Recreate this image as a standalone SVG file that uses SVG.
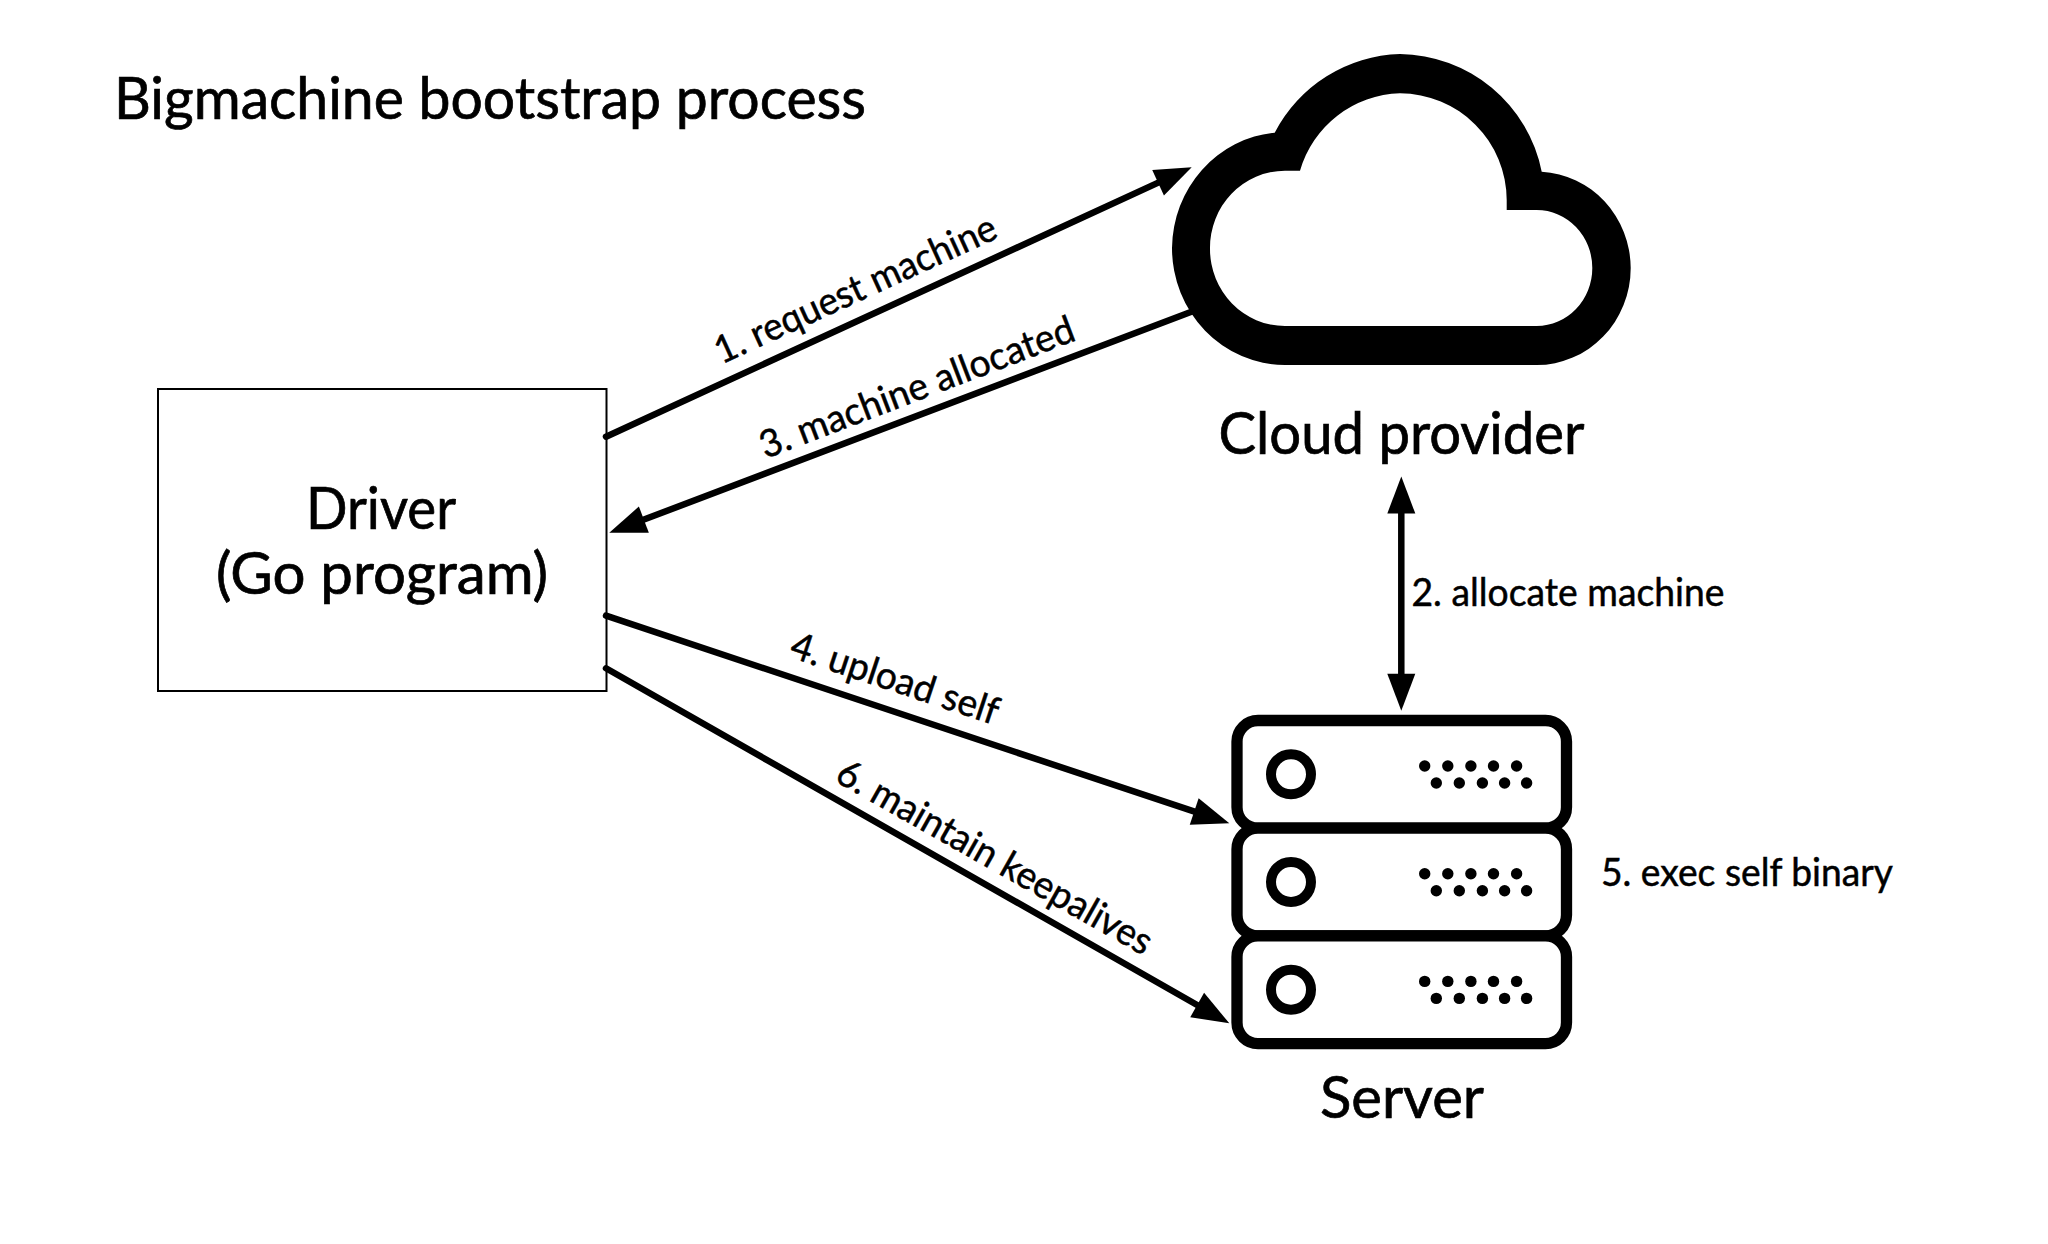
<svg xmlns="http://www.w3.org/2000/svg" width="2048" height="1244" viewBox="0 0 2048 1244">
<style>
text{font-family:"Lato","Liberation Sans",sans-serif;fill:#000;stroke:#000;stroke-width:.7}
.big{font-size:58px;text-anchor:middle}
.small{font-size:38px;stroke-width:.5}
.conn{stroke:#000;stroke-width:6.5;fill:none;stroke-linecap:round}
.rack{fill:#fff;stroke:#000;stroke-width:11.3}
.led{fill:none;stroke:#000;stroke-width:10}
</style>
<defs>
<marker id="head" markerUnits="userSpaceOnUse" markerWidth="37" markerHeight="28" refX="2" refY="14" orient="auto-start-reverse" overflow="visible"><path d="M0 0L37 14L0 28z" fill="#000"/></marker>
<g id="dots"><g fill="#000"><circle cx="1424.7" cy="766" r="5.7"/><circle cx="1447.8" cy="766" r="5.7"/><circle cx="1470.9" cy="766" r="5.7"/><circle cx="1493.5" cy="766" r="5.7"/><circle cx="1516.6" cy="766" r="5.7"/><circle cx="1436.3" cy="783" r="5.7"/><circle cx="1459.3" cy="783" r="5.7"/><circle cx="1482.4" cy="783" r="5.7"/><circle cx="1504.6" cy="783" r="5.7"/><circle cx="1526.6" cy="783" r="5.7"/></g><circle class="led" cx="1291" cy="774.3" r="20"/></g>
</defs>
<rect width="2048" height="1244" fill="#fff"/>
<text id="title" x="114" y="119" font-size="58" textLength="752" lengthAdjust="spacingAndGlyphs">Bigmachine bootstrap process</text>
<g id="driver">
<rect x="158" y="389" width="448.5" height="302" fill="#fff" stroke="#000" stroke-width="2"/>
<text class="big" x="381" y="529" textLength="150" lengthAdjust="spacingAndGlyphs">Driver</text>
<text class="big" x="382" y="594" textLength="332" lengthAdjust="spacingAndGlyphs">(Go program)</text>
</g>
<g id="connectors">
<line class="conn" x1="606" y1="436.7" x2="1159.9" y2="181.9" marker-end="url(#head)"/>
<line class="conn" x1="1200" y1="308.5" x2="642" y2="520.3" marker-end="url(#head)"/>
<line class="conn" x1="606" y1="615.7" x2="1196.1" y2="812.2" marker-end="url(#head)"/>
<line class="conn" x1="606" y1="668.3" x2="1198.9" y2="1006" marker-end="url(#head)"/>
<line class="conn" style="stroke-linecap:butt" x1="1401.3" y1="511.5" x2="1401.3" y2="675.7" marker-start="url(#head)" marker-end="url(#head)"/>
<text class="small" transform="translate(721.5 364.5) rotate(-24.6)" textLength="306" lengthAdjust="spacingAndGlyphs">1. request machine</text>
<text class="small" transform="translate(765.5 459) rotate(-20.9)" textLength="334" lengthAdjust="spacingAndGlyphs">3. machine allocated</text>
<text class="small" transform="translate(788 656.6) rotate(18.4)" textLength="217" lengthAdjust="spacingAndGlyphs">4. upload self</text>
<text class="small" transform="translate(833.5 780.5) rotate(29.5)" textLength="356" lengthAdjust="spacingAndGlyphs">6. maintain keepalives</text>
<text class="small" x="1411.5" y="606" textLength="313" lengthAdjust="spacingAndGlyphs">2. allocate machine</text>
<text class="small" x="1601" y="885.7" textLength="292" lengthAdjust="spacingAndGlyphs">5. exec self binary</text>
</g>
<g id="cloud-provider">
<path fill="#000" fill-rule="evenodd" d="M1274.7 132.7A146 146 0 0 1 1400 54A146 146 0 0 1 1541.7 171.7A94 97 0 0 1 1630.7 268A94 97 0 0 1 1536.7 365H1285A113 117 0 0 1 1172 248A113 117 0 0 1 1274.7 132.7ZM1300 170.7A107 107 0 0 1 1400 93.3A107 107 0 0 1 1506.7 200V210H1536.7A55.6 58 0 0 1 1592.3 268A55.6 58 0 0 1 1536.7 326H1285A75 77 0 0 1 1210 249A75 77 0 0 1 1285 170.7Z"/>
<text class="big" x="1401.5" y="454" textLength="366" lengthAdjust="spacingAndGlyphs">Cloud provider</text>
</g>
<g id="server">
<rect class="rack" x="1237" y="720.5" width="329.5" height="107.7" rx="21"/>
<rect class="rack" x="1237" y="828.2" width="329.5" height="107.7" rx="21"/>
<rect class="rack" x="1237" y="935.9" width="329.5" height="107.7" rx="21"/>
<use href="#dots"/>
<use href="#dots" y="107.7"/>
<use href="#dots" y="215.4"/>
<text class="big" x="1402" y="1118.3" textLength="164" lengthAdjust="spacingAndGlyphs">Server</text>
</g>
</svg>
